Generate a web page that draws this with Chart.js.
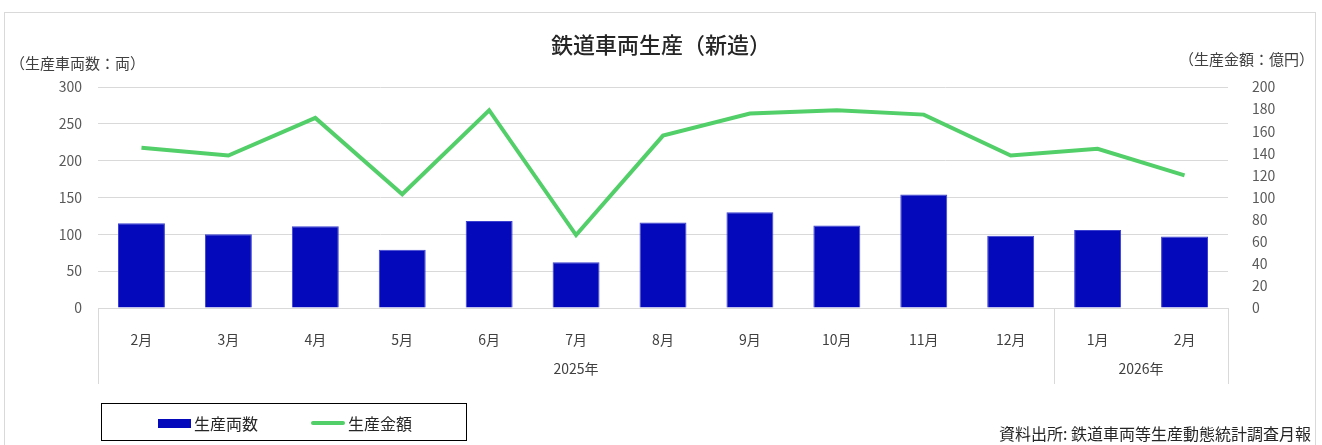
<!DOCTYPE html>
<html lang="ja">
<head>
<meta charset="utf-8">
<title>鉄道車両生産（新造）</title>
<script src="https://cdn.jsdelivr.net/npm/chart.js@4.4.1/dist/chart.umd.min.js"></script>
<style>
  html, body { margin: 0; padding: 0; background: #fff; }
  body { font-family: "Noto Sans CJK JP", "Noto Sans", sans-serif; color: #404040; }
  .wrap { position: relative; width: 1322px; height: 445px; overflow: hidden; }
  .frame { position: absolute; left: 4px; top: 12px; width: 1312px; height: 440px; border: 1px solid #d9d9d9; box-sizing: border-box; }
  canvas { position: absolute; left: 0; top: 0; }
  .title { position: absolute; left: 0; width: 1322px; top: 27px; text-align: center; font-size: 22px; font-weight: 500; color: #262626; }
  .unit-left { position: absolute; left: 10px; top: 52px; font-size: 15px; color: #404040; }
  .unit-right { position: absolute; right: 8px; top: 48px; font-size: 15px; color: #404040; }
  .legend { position: absolute; left: 101px; top: 403px; width: 366px; height: 38px; border: 1.5px solid #000; box-sizing: border-box; font-size: 16px; color: #262626; }
  .legend .item { position: absolute; top: 7px; display: flex; align-items: center; }
  .legend .sw { display: inline-block; margin-right: 3px; }
  .source { position: absolute; right: 11px; top: 421px; font-size: 16px; color: #262626; }
</style>
</head>
<body>
<div class="wrap">
  <div class="frame"></div>
  <canvas id="chart" width="1322" height="445"></canvas>
  <div class="title">鉄道車両生産（新造）</div>
  <div class="unit-left">（生産車両数：両）</div>
  <div class="unit-right">（生産金額：億円）</div>
  <div class="legend" id="legend"></div>
  <div class="source">資料出所: 鉄道車両等生産動態統計調査月報</div>
</div>
<script>
// Monthly figures, Feb 2025 - Feb 2026
const months = ['2月', '3月', '4月', '5月', '6月', '7月', '8月', '9月', '10月', '11月', '12月', '1月', '2月'];
const yearLabels = ['2025年', '2026年'];
const yearSpans = [11, 2];

const unitsProduced = [115, 100, 111, 79, 118, 62, 116, 130, 112, 154, 98, 106, 97];   // 両
const productionValue = [145, 138, 172, 103, 179, 66, 156, 176, 179, 175, 138, 144, 120]; // 億円

const leftTicks = [0, 50, 100, 150, 200, 250, 300];
const rightTicks = [0, 20, 40, 60, 80, 100, 120, 140, 160, 180, 200];

const BAR_COLOR = '#0409bb';
const LINE_COLOR = '#52cf68';
const FONT = '"Noto Sans CJK JP", "Noto Sans", sans-serif';

// draws the year row and group separators under the month labels
const yearGroups = {
  id: 'yearGroups',
  afterDraw(chart) {
    const x = chart.scales.x;
    const ctx = chart.ctx;
    const top = x.top;
    ctx.save();
    ctx.strokeStyle = '#d9d9d9';
    ctx.lineWidth = 1;
    let start = 0;
    const edges = [-0.5];
    yearSpans.forEach(s => { start += s; edges.push(start - 0.5); });
    edges.forEach(e => {
      const px = Math.round(x.getPixelForValue(e)) + 0.5;
      ctx.beginPath();
      ctx.moveTo(px, top);
      ctx.lineTo(px, top + 76);
      ctx.stroke();
    });
    ctx.fillStyle = '#404040';
    ctx.font = '14px ' + FONT;
    ctx.textAlign = 'center';
    ctx.textBaseline = 'middle';
    yearLabels.forEach((label, i) => {
      const l = x.getPixelForValue(edges[i]);
      const r = x.getPixelForValue(edges[i + 1]);
      ctx.fillText(label, (l + r) / 2, top + 61);
    });
    ctx.restore();
  }
};

new Chart(document.getElementById('chart'), {
  data: {
    labels: months,
    datasets: [
      {
        type: 'line',
        label: '生産金額',
        data: productionValue,
        yAxisID: 'y1',
        borderColor: LINE_COLOR,
        borderWidth: 4,
        pointRadius: 0,
        tension: 0,
        order: 0
      },
      {
        type: 'bar',
        label: '生産両数',
        data: unitsProduced,
        yAxisID: 'y',
        backgroundColor: BAR_COLOR,
        borderColor: '#3b40d0',
        borderWidth: 1,
        categoryPercentage: 1,
        barPercentage: 0.54,
        order: 1
      }
    ]
  },
  options: {
    responsive: false,
    animation: false,
    layout: { padding: { top: 87, right: 0, bottom: 0, left: 0 } },
    plugins: {
      legend: { display: false },
      tooltip: { enabled: false }
    },
    scales: {
      x: {
        offset: true,
        grid: { display: false },
        border: { display: false },
        ticks: { color: '#404040', font: { family: FONT, size: 14 }, padding: 15, maxRotation: 0, autoSkip: false },
        afterFit(scale) { scale.height = 137; }
      },
      y: {
        position: 'left',
        min: 0,
        max: 300,
        afterBuildTicks(scale) { scale.ticks = leftTicks.map(v => ({ value: v })); },
        grid: { color: '#d9d9d9', lineWidth: 1, drawTicks: false },
        border: { display: false },
        ticks: { color: '#595959', font: { family: FONT, size: 14 }, padding: 16 },
        afterFit(scale) { scale.width = 98; }
      },
      y1: {
        position: 'right',
        min: 0,
        max: 200,
        afterBuildTicks(scale) { scale.ticks = rightTicks.map(v => ({ value: v })); },
        grid: { display: false },
        border: { display: false },
        ticks: { color: '#595959', font: { family: FONT, size: 14 }, padding: 16 },
        afterFit(scale) { scale.width = 94; }
      }
    }
  },
  plugins: [yearGroups]
});

// HTML legend
const legend = document.getElementById('legend');
legend.innerHTML = `
  <div class="item" style="left:56px"><span class="sw" style="width:33px;height:9px;background:${BAR_COLOR}"></span>生産両数</div>
  <div class="item" style="left:209px"><span class="sw" style="width:34px;height:4px;border-radius:2px;background:${LINE_COLOR}"></span>生産金額</div>
`;
</script>
</body>
</html>
